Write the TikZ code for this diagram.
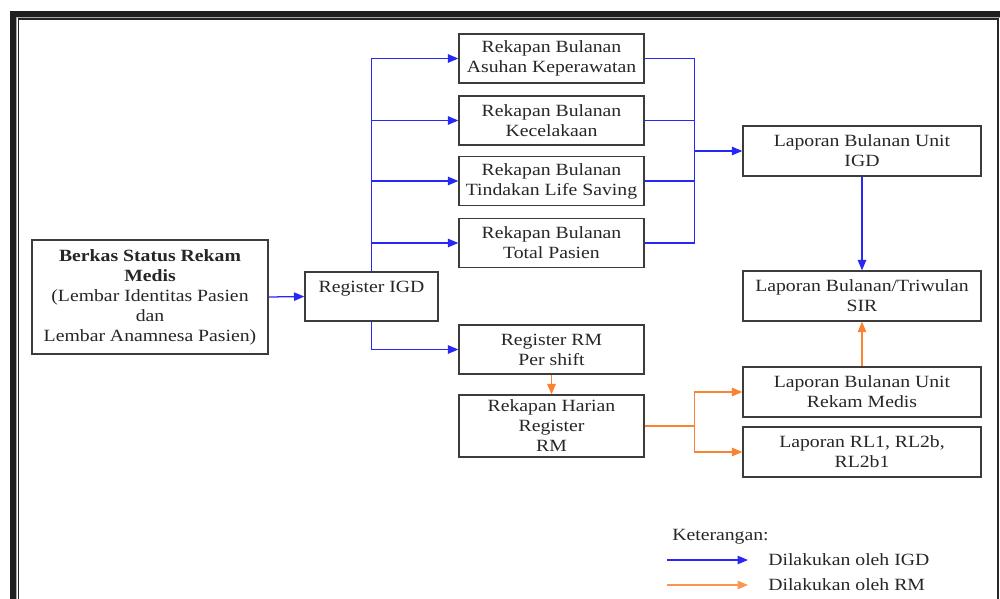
\documentclass[tikz,border=0pt]{standalone}
\usepackage{fontspec}
\setmainfont{Liberation Serif}[FakeStretch=1.15]
\usetikzlibrary{arrows.meta}

\begin{document}
\begin{tikzpicture}[x=0.25mm,y=-0.25mm,
        caja/.style={draw=borde,line width=0.9pt,fill=white,align=center,inner sep=0pt,
            minimum width=46.25mm,minimum height=12.25mm,text=black!85,
            font=\fontsize{12.2}{14.2}\selectfont},
        ancha/.style={caja,minimum width=59.5mm,minimum height=12.5mm},
        texto/.style={inner sep=0pt,text=black!85,font=\fontsize{12.2}{14.2}\selectfont},
        fazul/.style={bblue,line width=0.9pt,-{Triangle[length=2.6mm,width=2.1mm]}},
        fnaranja/.style={oorange,line width=0.9pt,-{Triangle[length=2.6mm,width=2.1mm]}},
        lazul/.style={bblue,line width=0.9pt},
        lnaranja/.style={oorange,line width=0.9pt}]
        %colores
        \definecolor{bblue}{RGB}{40,40,245}
        \definecolor{oorange}{RGB}{250,130,50}
        \definecolor{borde}{RGB}{60,60,60}
        \useasboundingbox (0,0) rectangle (1000,599);

        % Marco
        \draw[line width=1.6mm,black!88] (13,620) -- (13,14) -- (1010,14);
        \draw[line width=0.25mm,black!35] (16.8,620) -- (16.8,17.2) -- (1010,17.2);
        \draw[line width=0.3mm,black!85] (18.5,620) -- (18.5,19) -- (998,19) -- (998,620);

        % Cajas, columna izquierda
        \node[caja,minimum width=59mm,minimum height=28.5mm] (berkas) at (150,297)
            {\textbf{Berkas Status Rekam}\\\textbf{Medis}\\(Lembar Identitas Pasien\\dan\\Lembar Anamnesa Pasien)};
        \node[caja,minimum width=33.25mm] (regigd) at (371.5,296.5) {Register IGD\\\mbox{}};

        % Rekapan
        \node[caja] (rb1) at (551.5,58.5) {Rekapan Bulanan\\Asuhan Keperawatan};
        \node[caja] (rb2) at (551.5,120.5) {Rekapan Bulanan\\Kecelakaan};
        \node[caja] (rb3) at (551.5,181) {Rekapan Bulanan\\Tindakan Life Saving};
        \node[caja] (rb4) at (551.5,243) {Rekapan Bulanan\\Total Pasien};
        \node[caja] (regrm) at (551.5,349.5) {Register RM\\Per shift};
        \node[caja,minimum height=15.5mm] (harian) at (551.5,426) {Rekapan Harian\\Register\\RM};

        % Laporan
        \node[ancha] (lapigd) at (862,151) {Laporan Bulanan Unit\\IGD};
        \node[ancha] (sir) at (862,296) {Laporan Bulanan/Triwulan\\SIR};
        \node[ancha] (laprm) at (862,392) {Laporan Bulanan Unit\\Rekam Medis};
        \node[ancha] (laprl) at (862,452) {Laporan RL1, RL2b,\\RL2b1};

        % Alur IGD
        \draw[fazul] (berkas.east) -- (regigd.west);
        \draw[fazul] (regigd.north) |- (rb1.west);
        \foreach \r in {rb2,rb3,rb4}
            \draw[fazul] (regigd.north |- \r.west) -- (\r.west);
        \draw[fazul] (regigd.south) |- (regrm.west);
        \draw[lazul] (rb1.east) -- ++(50,0) coordinate (j1) -- (j1 |- rb4.east) -- (rb4.east);
        \foreach \r in {rb2,rb3}
            \draw[lazul] (\r.east) -- (j1 |- \r.east);
        \draw[fazul] (j1 |- lapigd.west) -- (lapigd.west);
        \draw[fazul] (lapigd.south) -- (sir.north);

        % Alur RM
        \draw[fnaranja] (regrm.south) -- (harian.north);
        \draw[lnaranja] (harian.east) -- ++(50,0) coordinate (j2);
        \draw[fnaranja] (j2) |- (laprm.west);
        \draw[fnaranja] (j2) |- (laprl.west);
        \draw[fnaranja] (laprm.north) -- (sir.south);

        % Keterangan
        \node[texto,anchor=west] (ket) at (672,537) {Keterangan:};
        \coordinate (a1) at (667,560);
        \coordinate (a2) at (748,560);
        \coordinate (b1) at (667,585);
        \coordinate (b2) at (748,585);
        \draw[fazul] (a1) -- (a2);
        \draw[fnaranja,oorange!85!white] (b1) -- (b2);
        \node[texto,anchor=west] (ketigd) at (768,560) {Dilakukan oleh IGD};
        \node[texto,anchor=west] (ketrm) at (768,585) {Dilakukan oleh RM};
    \end{tikzpicture}
\end{document}
